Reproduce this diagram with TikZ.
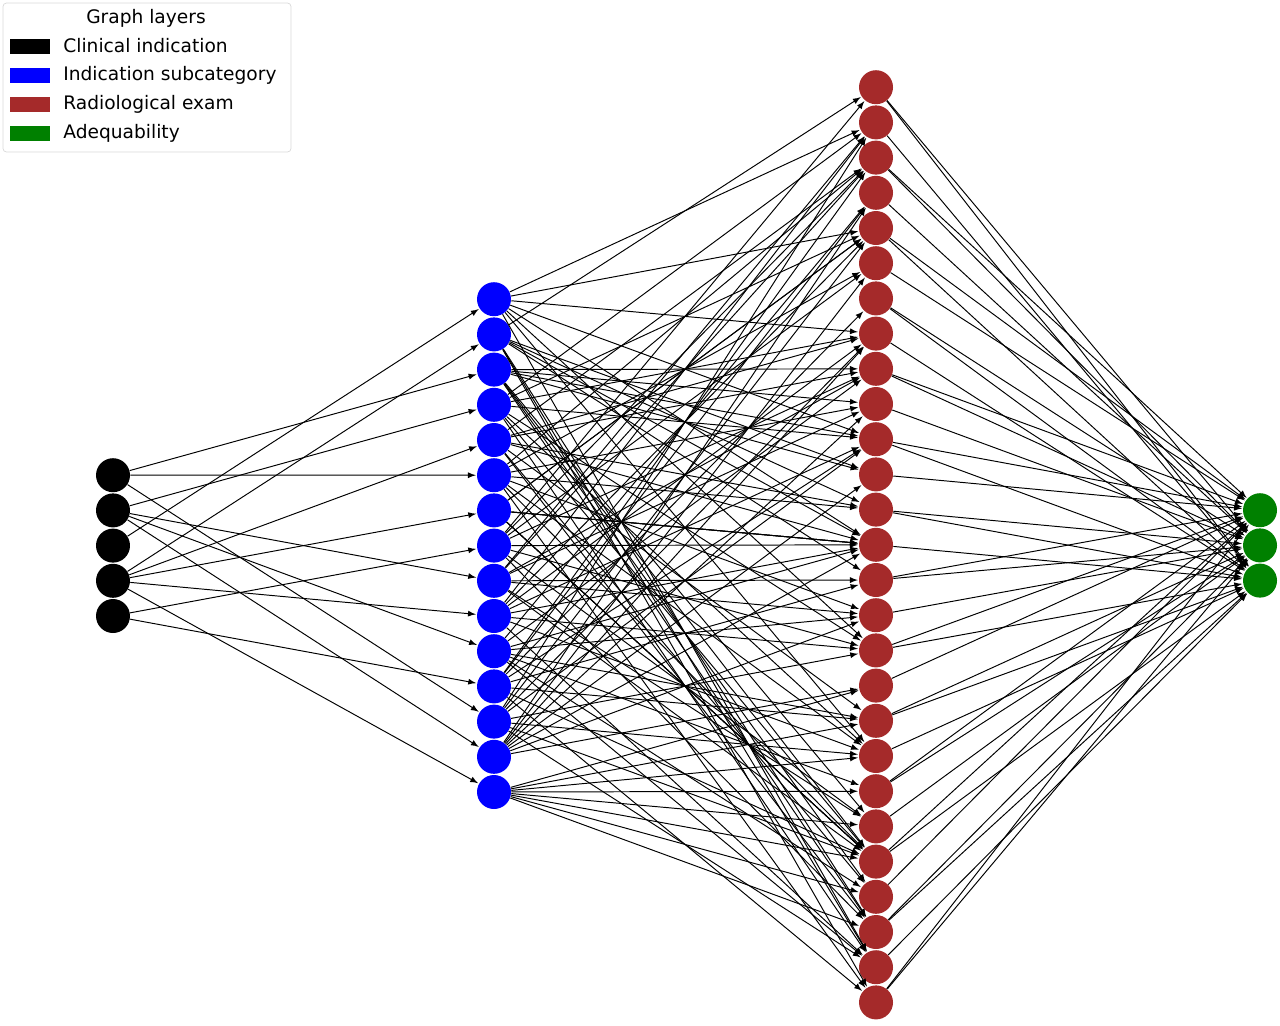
\documentclass[tikz,border=0pt]{standalone}
\usepackage{fontspec}
\setmainfont{DejaVu Sans}
\usetikzlibrary{arrows, positioning}
\tikzstyle{layer}=[circle, inner sep=0pt, minimum size=0.68cm]
\tikzstyle{link}=[-latex, line width=0.55pt, black, shorten >=0.5pt]
\tikzstyle{patch}=[minimum width=0.8cm, minimum height=0.3cm, inner sep=0pt]

\begin{document}
\begin{tikzpicture}[x=0.02cm, y=-0.02cm, font=\fontsize{10.6}{12}\selectfont]
        \useasboundingbox (0,0) rectangle (1280,1025);
        % nodes
        \foreach \i in {1,...,5}
          \node[layer, fill=black] (c\i) at (113, 440+35.2*\i) {};
        \foreach \i in {1,...,15}
          \node[layer, fill=blue] (s\i) at (494, 264+35.2*\i) {};
        \foreach \i in {1,...,27}
          \node[layer, fill={rgb,255:red,165;green,42;blue,42}] (r\i) at (876, 52+35.2*\i) {};
        \foreach \i in {1,...,3}
          \node[layer, fill={rgb,255:red,0;green,128;blue,0}] (a\i) at (1260, 475+35.2*\i) {};

        % clinical indication -> subcategory
        \foreach \a/\b in {1/3, 1/6, 1/13, 2/4, 2/9, 2/11, 2/14, 3/1,
                           4/2, 4/5, 4/7, 4/10, 4/15, 5/8, 5/12}
          \draw[link] (c\a) -- (s\b);

        % subcategory -> radiological exam
        \foreach \b in {1,...,15}
          \foreach \k in {0,...,7} {
            \pgfmathtruncatemacro{\t}{mod(\b*7+\k*11+\b*\k, 27)+1}
            \draw[link] (s\b) -- (r\t);
          }

        % radiological exam -> adequability
        \foreach \r in {1,...,27} {
          \pgfmathtruncatemacro{\g}{mod(\r,3)+1}
          \pgfmathtruncatemacro{\h}{mod(\r+1,3)+1}
          \draw[link] (r\r) -- (a\g);
          \ifodd\r \draw[link] (r\r) -- (a\h); \fi
        }

        % legend
        \draw[black!15, rounded corners=2pt, fill=white] (3,3) rectangle (291,152);
        \node (title) at (146,18) {Graph layers};
        \foreach \n/\c/\t in {1/black/Clinical indication, 2/blue/Indication subcategory,
                              3/{rgb,255:red,165;green,42;blue,42}/Radiological exam,
                              4/{rgb,255:red,0;green,128;blue,0}/Adequability} {
          \node[patch, fill=\c] (p\n) at (30, 17+29*\n) {};
          \node[anchor=west, inner sep=0pt] (l\n) at (63, 17+29*\n) {\t};
        }
\end{tikzpicture}
\end{document}
